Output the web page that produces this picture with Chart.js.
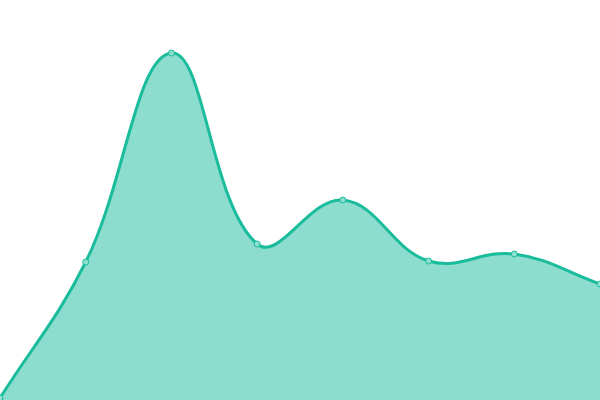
<!DOCTYPE html>
<html>
<head>
<meta charset="utf-8">
<script src="https://cdn.jsdelivr.net/npm/chart.js@4/dist/chart.umd.min.js"></script>
<style>
  html, body { margin: 0; padding: 0; background: #fff; }
  #wrap { width: 600px; height: 400px; }
</style>
</head>
<body>
<div id="wrap"><canvas id="chart"></canvas></div>
<script>
// values, scale 0..400
const labels = ["1", "2", "3", "4", "5", "6", "7", "8"];
const values = [2, 138, 347, 156, 200, 139, 146, 116];

const ctx = document.getElementById("chart");

new Chart(ctx, {
    type: "line",
    data: {
        labels: labels,
        datasets: [{
            data: values,
            fill: true,
            backgroundColor: "rgba(26, 188, 156, 0.5)",
            borderColor: "#1abc9c",
            borderWidth: 3,
            tension: 0.4,
            pointRadius: 3,
            pointBorderWidth: 1,
            pointBackgroundColor: "#8ddfcf",
            pointBorderColor: "#1abc9c",
        }],
    },
    options: {
        responsive: true,
        maintainAspectRatio: false,
        animation: false,
        layout: { padding: 0, autoPadding: false },
        plugins: {
            legend: { display: false },
            tooltip: { enabled: false },
        },
        scales: {
            x: { display: false, offset: false },
            y: { display: false, min: 0, max: 400 },
        },
    },
});
</script>
</body>
</html>
